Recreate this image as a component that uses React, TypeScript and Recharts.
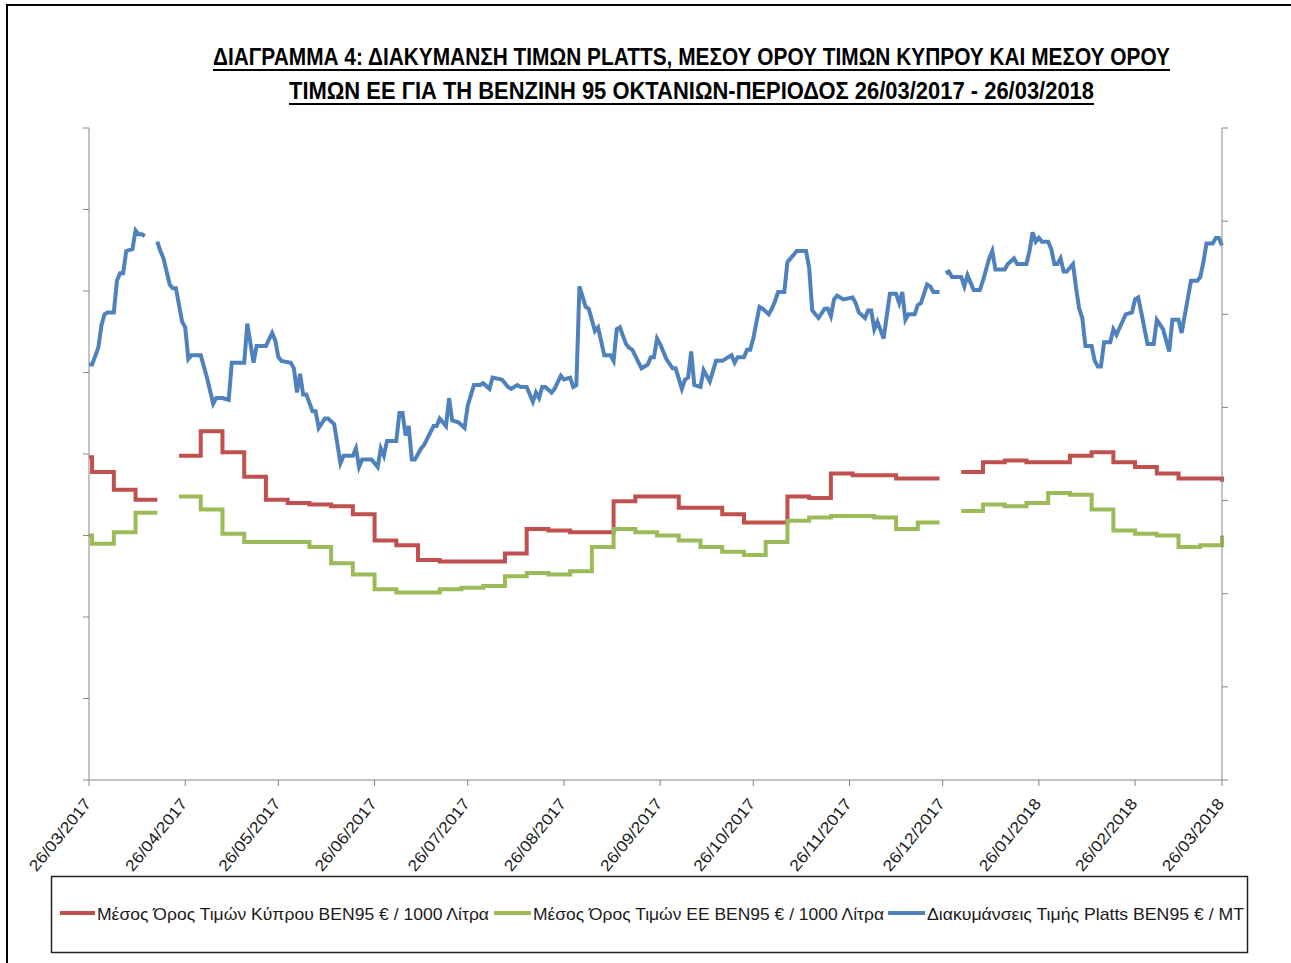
import React from 'react';
import { LineChart, Line, XAxis, YAxis } from 'recharts';

// day 0 = 26/03/2017
const monthTicks = [0, 31, 61, 92, 122, 153, 184, 214, 245, 275, 306, 337, 365];
const monthLabels = [
  '26/03/2017', '26/04/2017', '26/05/2017', '26/06/2017', '26/07/2017', '26/08/2017',
  '26/09/2017', '26/10/2017', '26/11/2017', '26/12/2017', '26/01/2018', '26/02/2018', '26/03/2018',
];

const leftTicks = [400, 450, 500, 550, 600, 650, 700, 750, 800];
const rightTicks = [300, 350, 400, 450, 500, 550, 600, 650];

// Μέσος Όρος Τιμών Κύπρου (weekly, €/1000 L)
const cyprusDays = [0, 1, 8, 15, 22, 23, 29, 36, 43, 50, 57, 64, 71, 78, 85, 92, 99, 106, 113, 134, 141, 148, 155, 169, 176, 190, 204, 211, 225, 232, 239, 246, 260, 274, 275, 281, 288, 295, 302, 316, 323, 330, 337, 344, 351, 364, 365];
const cyprusPrices = [598, 589, 578, 572, 572, null, 599, 614, 601, 586, 572, 570, 569, 568, 563, 547, 544, 535, 534, 539, 554, 553, 552, 571, 574, 567, 563, 558, 574, 573, 588, 587, 585, 585, null, 589, 595, 596, 595, 599, 601, 595, 592, 588, 585, 585, 583];

// Μέσος Όρος Τιμών ΕΕ (weekly, €/1000 L)
const euDays = [0, 1, 8, 15, 22, 23, 29, 36, 43, 50, 71, 78, 85, 92, 99, 113, 120, 127, 134, 141, 148, 155, 162, 169, 176, 183, 190, 197, 204, 211, 218, 225, 232, 239, 253, 260, 267, 274, 275, 281, 288, 295, 302, 309, 316, 323, 330, 337, 344, 351, 358, 364, 365];
const euPrices = [550, 545, 552, 564, 564, null, 574, 566, 551, 546, 543, 533, 526, 517, 515, 517, 518, 519, 525, 527, 526, 528, 543, 554, 552, 550, 547, 543, 540, 538, 546, 559, 561, 562, 561, 554, 558, 558, null, 565, 569, 568, 570, 576, 575, 566, 553, 551, 550, 543, 544, 544, 550];

// Διακυμάνσεις Τιμής Platts (€/MT)
const plattsDays = [
  0, 1, 3, 4, 5, 6, 8, 9, 10, 11, 12, 14, 15, 16, 17, 18, 19, 22, 23, 24, 26, 27, 28, 30, 31, 32, 33, 36, 38, 40,
  41, 43, 45, 46, 50, 51, 53, 54, 57, 59, 60, 61, 62, 65, 66, 67, 68, 69, 70, 72, 73, 74, 76, 77, 79, 81, 82, 85, 86, 87,
  88, 91, 93, 94, 95, 96, 99, 100, 101, 102, 103, 104, 105, 107, 108, 111, 112, 113, 115, 116, 117, 119, 121, 122, 124, 126, 127, 129, 130, 133,
  135, 136, 138, 139, 141, 143, 144, 145, 146, 147, 149, 150, 152, 153, 155, 156, 157, 158, 160, 161, 163, 164, 166, 168, 169, 170, 171, 173, 174, 175,
  178, 180, 181, 182, 183, 184, 186, 188, 189, 191, 192, 193, 194, 195, 197, 198, 200, 202, 204, 207, 208, 209, 211, 212, 213, 214, 216, 217, 219, 220,
  221, 222, 224, 225, 227, 228, 231, 232, 233, 235, 237, 238, 239, 240, 241, 243, 246, 247, 248, 250, 251, 252, 253, 254, 256, 258, 260, 261, 262, 263,
  264, 266, 267, 268, 270, 271, 272, 274, 275, 276, 277, 278, 281, 282, 283, 285, 287, 288, 290, 291, 292, 295, 296, 298, 299, 302, 303, 304, 305, 306,
  307, 309, 310, 311, 312, 313, 314, 315, 317, 318, 319, 320, 321, 323, 324, 325, 326, 327, 329, 330, 331, 334, 336, 337, 338, 339, 341, 343, 344, 346,
  348, 349, 351, 352, 355, 357, 358, 359, 360, 362, 363, 364, 365,
];
const plattsPrices = [
  523, 523, 532, 544, 550, 551, 551, 568, 572, 572, 584, 585, 595, 593, 593, 592, null, 589, 584, 580, 566, 564, 564, 546, 543, 526, 528, 528, 516, 502,
  505, 505, 504, 524, 524, 545, 524, 533, 533, 540, 536, 527, 525, 524, 521, 508, 518, 507, 507, 498, 498, 489, 494, 494, 491, 470, 474, 474, 478, 468,
  472, 472, 468, 478, 474, 482, 482, 497, 497, 485, 490, 472, 472, 478, 480, 490, 490, 494, 490, 505, 493, 492, 489, 501, 512, 512, 513, 510, 516, 515,
  511, 510, 512, 511, 511, 503, 508, 505, 511, 511, 508, 510, 517, 515, 516, 511, 512, 565, 554, 553, 541, 543, 528, 528, 525, 542, 543, 534, 532, 531,
  521, 523, 527, 527, 537, 534, 526, 521, 521, 510, 515, 516, 530, 512, 511, 520, 514, 525, 525, 528, 524, 527, 527, 531, 531, 537, 554, 553, 550, 553,
  557, 562, 562, 578, 582, 584, 584, 575, 552, 548, 553, 553, 549, 558, 560, 558, 559, 556, 551, 548, 552, 552, 542, 546, 537, 561, 561, 556, 562, 547,
  550, 550, 555, 556, 566, 565, 562, 562, null, 572, 573, 570, 570, 565, 571, 563, 563, 568, 580, 584, 574, 574, 577, 580, 577, 577, 584, 594, 589, 591,
  589, 589, 585, 577, 577, 580, 573, 573, 577, 564, 553, 548, 533, 533, 525, 522, 522, 535, 535, 542, 539, 550, 551, 558, 559, 551, 534, 534, 547, 542,
  530, 547, 547, 540, 568, 568, 570, 578, 588, 588, 591, 591, 587,
];

const cyprusData = cyprusDays.map((day, i) => ({ day, cyprus: cyprusPrices[i] }));
const euData = euDays.map((day, i) => ({ day, eu: euPrices[i] }));
const plattsData = plattsDays.map((day, i) => ({ day, platts: plattsPrices[i] }));

const RED = '#C0504D';
const GREEN = '#9BBB59';
const BLUE = '#4F81BD';
const AXIS = '#868686';
const FONT = "'Liberation Sans Narrow', 'Liberation Sans', Arial, sans-serif";

function DateTick(props: any) {
  const { x, y, payload } = props;
  const label = monthLabels[monthTicks.indexOf(payload.value)];
  const tx = x + 3;
  const ty = y + 16;
  return (
    <text
      x={tx}
      y={ty}
      transform={`rotate(-51, ${tx}, ${ty})`}
      textAnchor="end"
      fontSize={16}
      fontFamily={FONT}
      fill="#1a1a1a"
      textLength={88}
      lengthAdjust="spacingAndGlyphs"
    >
      {label}
    </text>
  );
}

const NoLabel = () => <g />;

const legendItems = [
  { color: RED, text: 'Μέσος Όρος Τιμών Κύπρου ΒΕΝ95 € / 1000  Λίτρα', x1: 60, x2: 95, tx: 97, tw: 392 },
  { color: GREEN, text: 'Μέσος Όρος Τιμών ΕΕ ΒΕΝ95 € / 1000  Λίτρα', x1: 494, x2: 531, tx: 533, tw: 351 },
  { color: BLUE, text: 'Διακυμάνσεις Τιμής Platts ΒΕΝ95 € / MT', x1: 888, x2: 925, tx: 927, tw: 317 },
];

export default function App() {
  return (
    <div style={{ position: 'fixed', left: 0, top: 0, width: 1291, height: 963, overflow: 'hidden', background: '#fff' }}>
      <div style={{ position: 'absolute', left: 6, top: 4, width: 1400, height: 1100, border: '2px solid #000' }} />
      <div style={{ position: 'absolute', left: 0, top: 0 }}>
        <LineChart width={1291} height={963} margin={{ top: 128, right: 59, bottom: 123, left: 79 }}>
          <XAxis
            dataKey="day"
            type="number"
            domain={[0, 365]}
            ticks={monthTicks}
            interval={0}
            tick={<DateTick />}
            tickSize={6}
            height={60}
            stroke={AXIS}
          />
          <YAxis
            yAxisId="left"
            orientation="left"
            domain={[400, 800]}
            ticks={leftTicks}
            tick={NoLabel}
            tickSize={6}
            width={10}
            stroke={AXIS}
          />
          <YAxis
            yAxisId="right"
            orientation="right"
            domain={[300, 650]}
            ticks={rightTicks}
            tick={NoLabel}
            tickSize={6}
            width={10}
            stroke={AXIS}
          />
          <Line
            data={cyprusData}
            yAxisId="left"
            dataKey="cyprus"
            type="stepAfter"
            stroke={RED}
            strokeWidth={4}
            dot={false}
            connectNulls={false}
            isAnimationActive={false}
          />
          <Line
            data={euData}
            yAxisId="left"
            dataKey="eu"
            type="stepAfter"
            stroke={GREEN}
            strokeWidth={4}
            dot={false}
            connectNulls={false}
            isAnimationActive={false}
          />
          <Line
            data={plattsData}
            yAxisId="right"
            dataKey="platts"
            type="linear"
            stroke={BLUE}
            strokeWidth={4}
            dot={false}
            connectNulls={false}
            isAnimationActive={false}
          />
        </LineChart>
      </div>
      <svg width={1291} height={963} style={{ position: 'absolute', left: 0, top: 0, pointerEvents: 'none' }}>
        <g fontFamily={FONT} fontWeight="bold" fill="#000">
          <text x={213} y={65} fontSize={23} textLength={957} lengthAdjust="spacingAndGlyphs">
            ΔΙΑΓΡΑΜΜΑ 4: ΔΙΑΚΥΜΑΝΣΗ ΤΙΜΩΝ PLATTS, ΜΕΣΟΥ ΟΡΟΥ ΤΙΜΩΝ ΚΥΠΡΟΥ ΚΑΙ ΜΕΣΟΥ ΟΡΟΥ
          </text>
          <line x1={213} x2={1170} y1={70} y2={70} stroke="#000" strokeWidth={2} />
          <text x={289} y={99} fontSize={23} textLength={805} lengthAdjust="spacingAndGlyphs">
            ΤΙΜΩΝ ΕΕ ΓΙΑ ΤΗ ΒΕΝΖΙΝΗ 95 ΟΚΤΑΝΙΩΝ-ΠΕΡΙΟΔΟΣ 26/03/2017 - 26/03/2018
          </text>
          <line x1={289} x2={1094} y1={104} y2={104} stroke="#000" strokeWidth={2} />
        </g>
        <rect x={51.5} y={876.5} width={1196} height={76} fill="none" stroke="#222" strokeWidth={1.5} />
        {legendItems.map((item) => (
          <g key={item.text}>
            <line x1={item.x1} x2={item.x2} y1={913} y2={913} stroke={item.color} strokeWidth={4} />
            <text
              x={item.tx}
              y={920}
              fontSize={17}
              fontFamily={FONT}
              fill="#1a1a1a"
              textLength={item.tw}
              lengthAdjust="spacingAndGlyphs"
            >
              {item.text}
            </text>
          </g>
        ))}
      </svg>
    </div>
  );
}
